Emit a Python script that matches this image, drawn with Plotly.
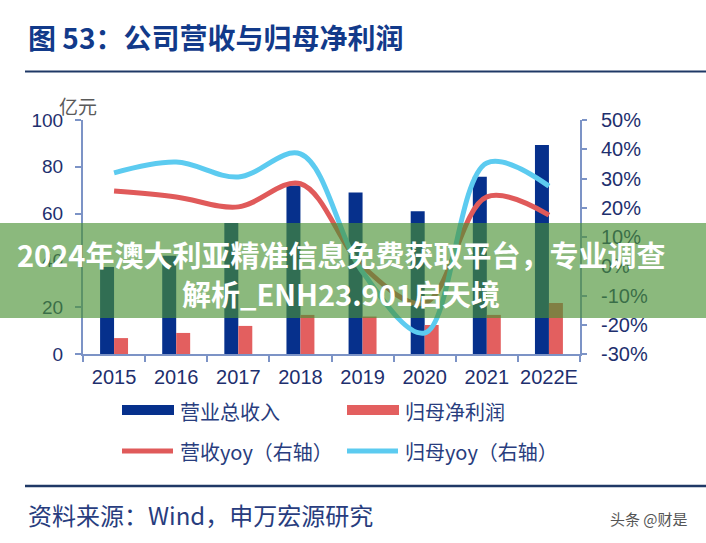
import plotly.graph_objects as go

# ---------------- data ----------------
years = ["2015", "2016", "2017", "2018", "2019", "2020", "2021", "2022E"]
revenue = [37.2, 42.0, 56.0, 72.0, 69.0, 61.0, 75.7, 89.3]        # 营业总收入 (亿元)
net_profit = [6.8, 9.0, 12.0, 16.7, 16.0, 12.4, 16.7, 21.8]       # 归母净利润 (亿元)
revenue_yoy = [25.7, 23.7, 20.3, 28.2, 0.0, -12.6, 23.7, 17.5]    # 营收yoy (%)
profit_yoy = [31.9, 35.6, 30.5, 38.4, -2.0, -22.8, 35.3, 27.4]    # 归母yoy (%)

left_ticks = [0, 20, 40, 60, 80, 100]
right_ticks = [-30, -20, -10, 0, 10, 20, 30, 40, 50]
right_ticktext = ["-30%", "-20%", "-10%", "0%", "10%", "20%", "30%", "40%", "50%"]

# ---------------- style ----------------
W, H = 706, 543
L, R, T, B = 83, 126, 120, 189
PW, PH = W - L - R, H - T - B

NAVY = "#06308c"
RED_BAR = "#e35f5f"
RED_LINE = "#e05a5a"
CYAN = "#5ccbf0"
AXIS = "#7c93c6"
TICK_TXT = "#1e2f6e"
TEXT_BLUE = "#283d7e"
TITLE = "#123a8a"
CJK = "Noto Sans CJK SC"
NUM = "Liberation Sans, Arial, sans-serif"


def px(x):
    return (x - L) / PW


def py(y):
    return (T + PH - y) / PH


fig = go.Figure()

fig.add_trace(go.Bar(x=years, y=revenue, name="营业总收入", marker_color=NAVY,
                     marker_line_width=0, offsetgroup="a"))
fig.add_trace(go.Bar(x=years, y=net_profit, name="归母净利润", marker_color=RED_BAR,
                     marker_line_width=0, offsetgroup="b"))
fig.add_trace(go.Scatter(x=years, y=revenue_yoy, name="营收yoy（右轴）", yaxis="y2",
                         mode="lines", line=dict(color=RED_LINE, width=5, shape="spline", smoothing=1.0)))
fig.add_trace(go.Scatter(x=years, y=profit_yoy, name="归母yoy（右轴）", yaxis="y2",
                         mode="lines", line=dict(color=CYAN, width=5, shape="spline", smoothing=1.0)))

fig.update_layout(
    width=W, height=H,
    margin=dict(l=L, r=R, t=T, b=B, pad=0),
    paper_bgcolor="white", plot_bgcolor="white",
    showlegend=False,
    barmode="group", bargap=0.55, bargroupgap=0.0,
    xaxis=dict(
        type="category", showgrid=False, zeroline=False,
        showline=True, linecolor=AXIS, linewidth=2,
        ticks="outside", ticklen=6, tickcolor=AXIS, tickwidth=2,
        tickson="boundaries", tickangle=0,
        tickfont=dict(family=NUM, size=20, color=TICK_TXT),
        ticklabelstandoff=4,
        range=[-0.5, 7.5],
    ),
    yaxis=dict(
        range=[0, 100], tickvals=left_ticks, showgrid=False, zeroline=False,
        showline=True, linecolor=AXIS, linewidth=2,
        ticks="outside", ticklen=6, tickcolor=AXIS, tickwidth=2,
        tickfont=dict(family=NUM, size=19, color=TICK_TXT),
        ticklabelstandoff=8,
    ),
    yaxis2=dict(
        range=[-30, 50], tickvals=right_ticks, ticktext=right_ticktext,
        overlaying="y", side="right", showgrid=False, zeroline=False,
        showline=True, linecolor=AXIS, linewidth=2,
        ticks="outside", ticklen=5, tickcolor=AXIS, tickwidth=2,
        tickfont=dict(family=NUM, size=20, color=TICK_TXT),
        ticklabelstandoff=10,
    ),
)

shapes = []
annotations = []

# title and rules
annotations.append(dict(text="<b>图 53：公司营收与归母净利润</b>", xref="paper", yref="paper",
                        x=px(26), y=py(37), xanchor="left", yanchor="middle", showarrow=False,
                        font=dict(family=CJK, size=28, color=TITLE)))
shapes.append(dict(type="line", xref="paper", yref="paper", x0=px(25), x1=px(706),
                   y0=py(71.5), y1=py(71.5), line=dict(color="#1f3866", width=2)))
shapes.append(dict(type="line", xref="paper", yref="paper", x0=px(25), x1=px(706),
                   y0=py(486), y1=py(486), line=dict(color="#1f3866", width=2.5)))

# unit label
annotations.append(dict(text="亿元", xref="paper", yref="paper", x=px(57), y=py(105),
                        xanchor="left", yanchor="middle", showarrow=False,
                        font=dict(family=CJK, size=19, color="#5a5a5a")))

# legend (manual)
shapes.append(dict(type="rect", xref="paper", yref="paper", x0=px(122), x1=px(174),
                   y0=py(415), y1=py(405), fillcolor=NAVY, line_width=0))
shapes.append(dict(type="rect", xref="paper", yref="paper", x0=px(347), x1=px(399),
                   y0=py(415), y1=py(405), fillcolor=RED_BAR, line_width=0))
shapes.append(dict(type="line", xref="paper", yref="paper", x0=px(122), x1=px(173),
                   y0=py(451), y1=py(451), line=dict(color=RED_LINE, width=5)))
shapes.append(dict(type="line", xref="paper", yref="paper", x0=px(347), x1=px(398),
                   y0=py(451), y1=py(451), line=dict(color=CYAN, width=5)))
for txt, x, y in [("营业总收入", 178, 411), ("归母净利润", 403, 411),
                  ("营收yoy（右轴）", 178, 451), ("归母yoy（右轴）", 403, 451)]:
    annotations.append(dict(text=txt, xref="paper", yref="paper", x=px(x), y=py(y),
                            xanchor="left", yanchor="middle", showarrow=False,
                            font=dict(family=CJK, size=20, color=TEXT_BLUE)))

# footer
annotations.append(dict(text="资料来源：Wind，申万宏源研究", xref="paper", yref="paper",
                        x=px(26), y=py(514), xanchor="left", yanchor="middle", showarrow=False,
                        font=dict(family=CJK, size=24, color=TEXT_BLUE)))
annotations.append(dict(text="头条 @财是", xref="paper", yref="paper",
                        x=px(690), y=py(518), xanchor="right", yanchor="middle", showarrow=False,
                        font=dict(family=CJK, size=15, color="#555555")))

# overlay banner
shapes.append(dict(type="rect", xref="paper", yref="paper", x0=px(0), x1=px(706),
                   y0=py(318), y1=py(223), fillcolor="rgba(73,145,52,0.64)", line_width=0,
                   layer="above"))
annotations.append(dict(text="<b>2024年澳大利亚精准信息免费获取平台，专业调查</b>", xref="paper", yref="paper",
                        x=px(341), y=py(254), xanchor="center", yanchor="middle", showarrow=False,
                        font=dict(family=CJK, size=29, color="white")))
annotations.append(dict(text="<b>解析_ENH23.901启天境</b>", xref="paper", yref="paper",
                        x=px(341), y=py(293), xanchor="center", yanchor="middle", showarrow=False,
                        font=dict(family=CJK, size=29, color="white")))

fig.update_layout(shapes=shapes, annotations=annotations)

fig.write_html("out.html")
